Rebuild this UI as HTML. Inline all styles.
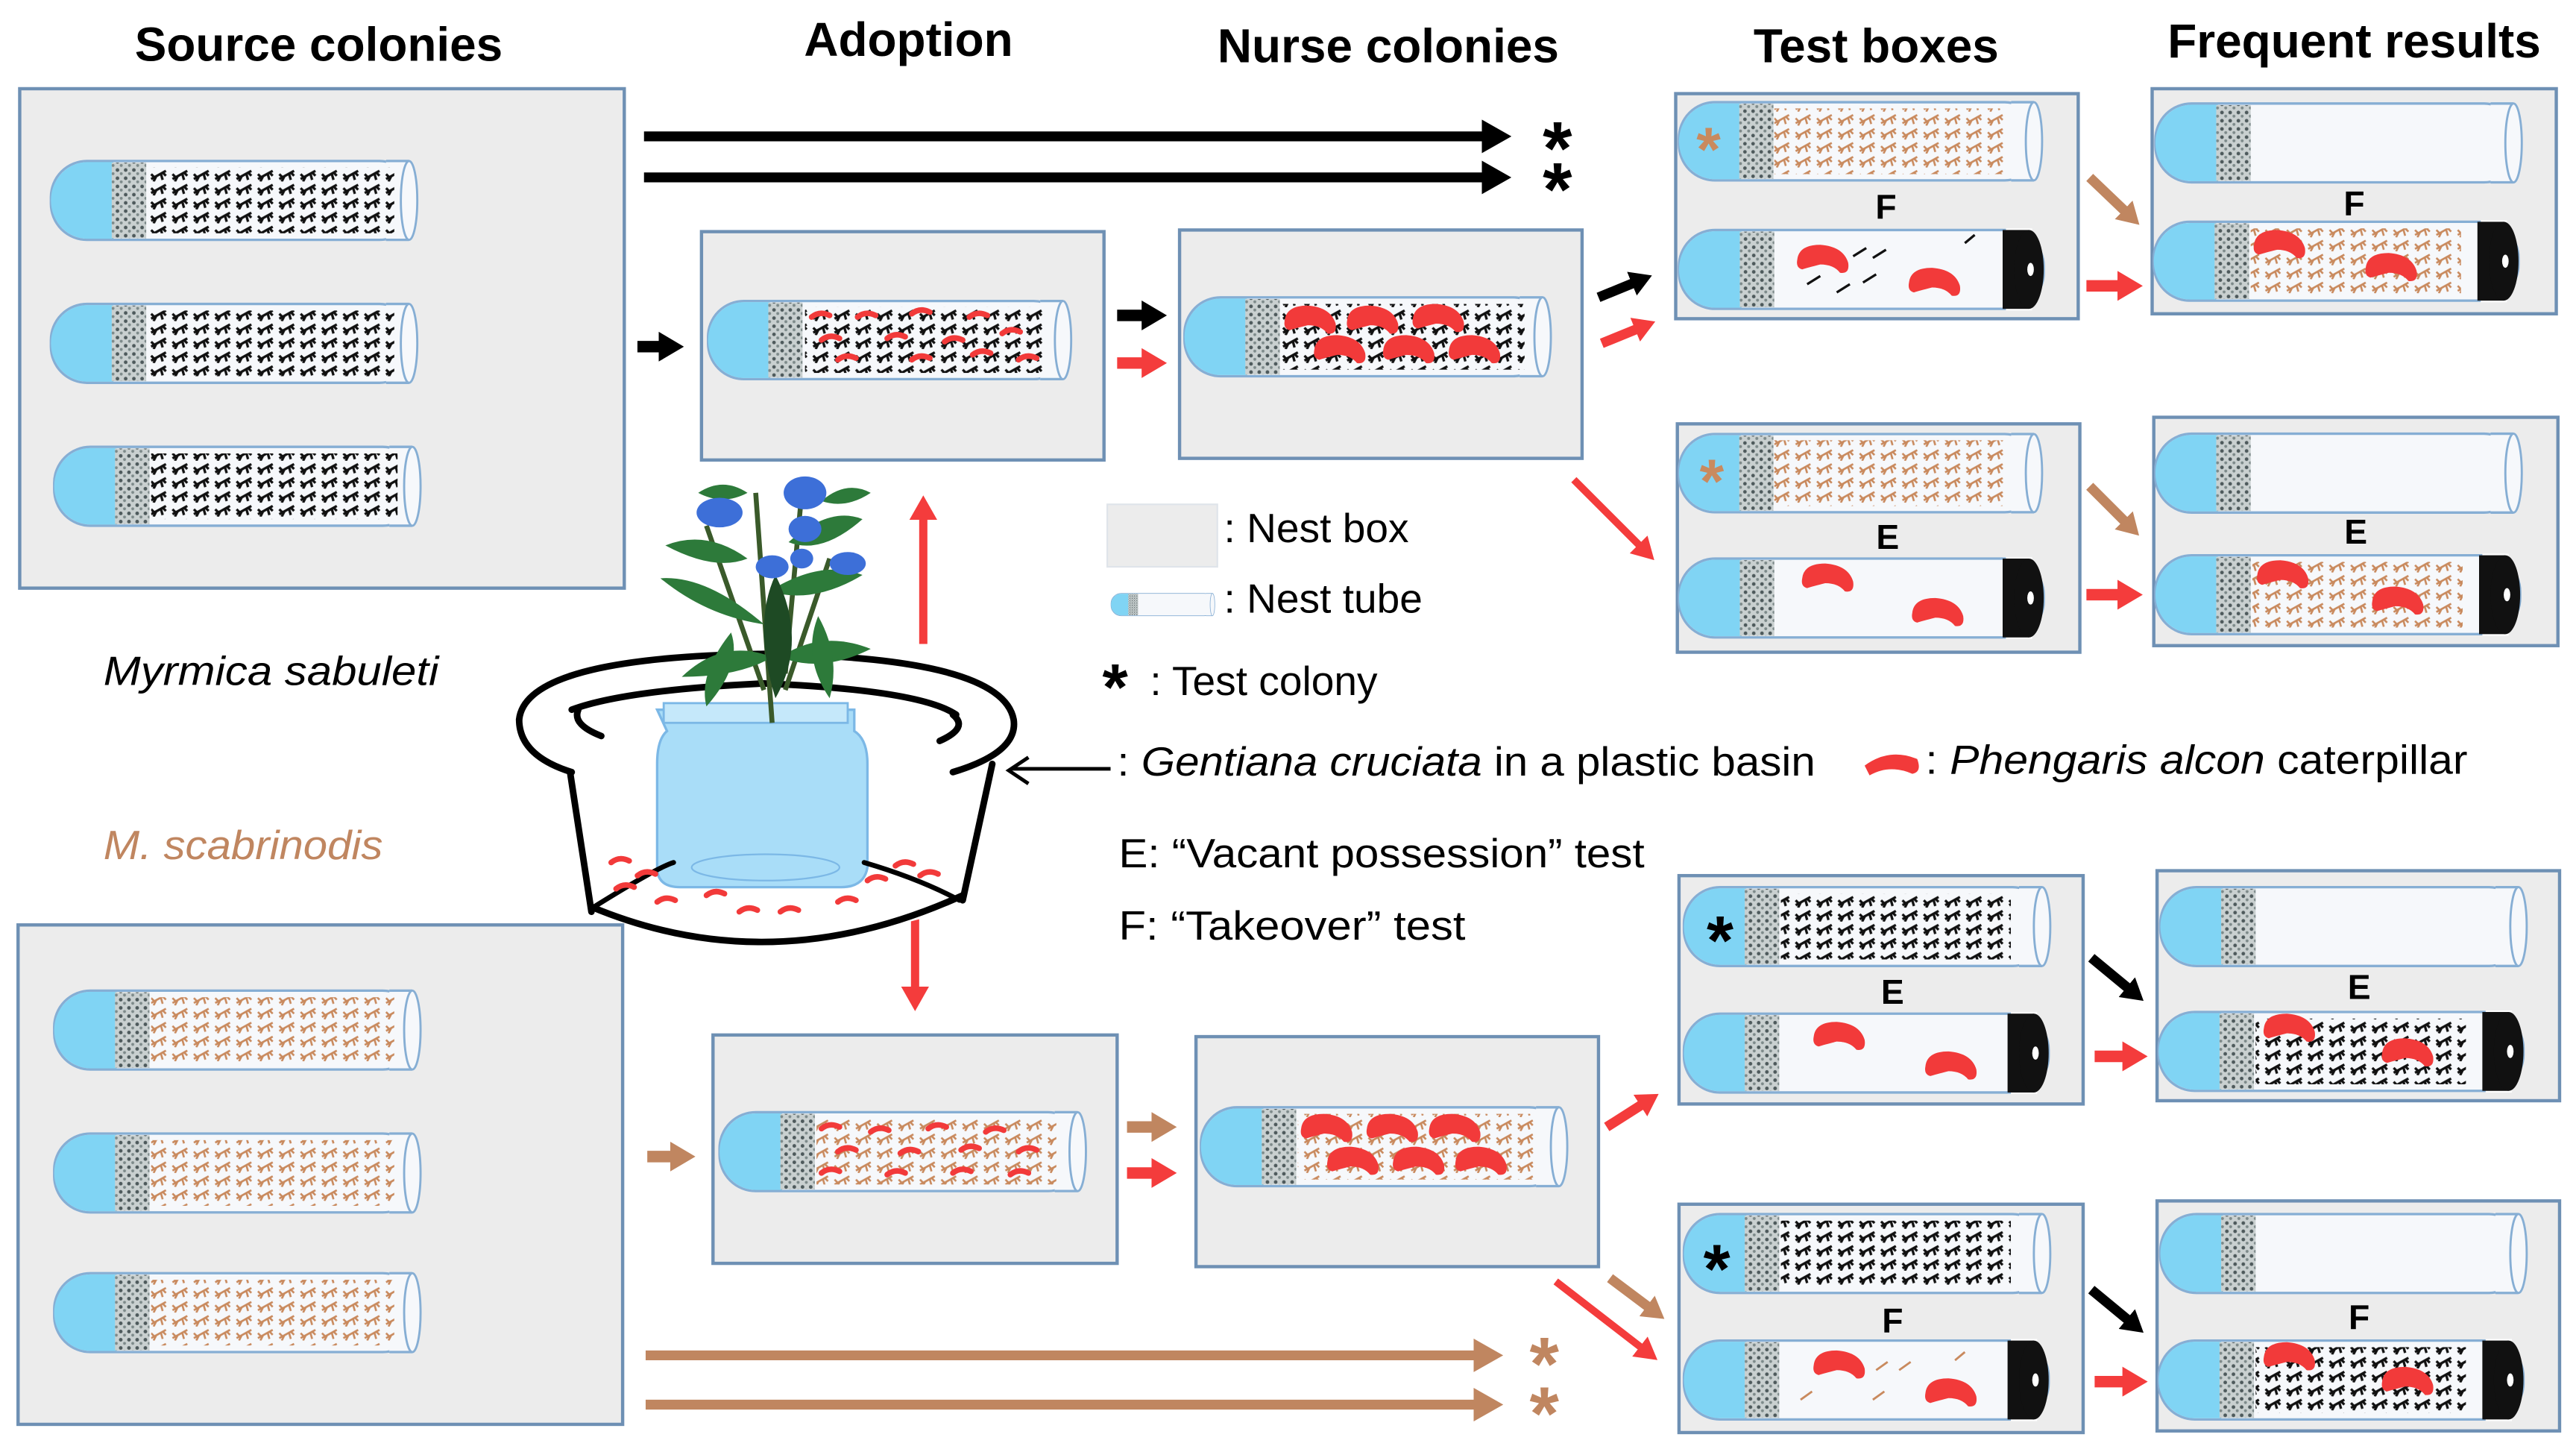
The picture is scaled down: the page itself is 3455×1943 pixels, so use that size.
<!DOCTYPE html>
<html><head><meta charset="utf-8"><style>
html,body{margin:0;padding:0;background:#fff}
svg{display:block}
text{font-family:"Liberation Sans",sans-serif}
</style></head><body>
<svg width="3455" height="1943" viewBox="0 0 1568 882" preserveAspectRatio="none" xmlns="http://www.w3.org/2000/svg">
<defs>
<pattern id="antK" width="13" height="8.5" patternUnits="userSpaceOnUse">
<path d="M1,7 L10,2 M4,5.5 l-1.5,3 M7,4 l1,3.5 M3,6 l-2,-2 M8,3 l2,2" stroke="#111" stroke-width="1.5" fill="none"/>
</pattern>
<pattern id="antB" width="13" height="8.5" patternUnits="userSpaceOnUse">
<path d="M1,7 L10,2 M4,5.5 l-1.5,3 M7,4 l1,3.5 M3,6 l-2,-2 M8,3 l2,2" stroke="#c98a5e" stroke-width="1.2" fill="none"/>
</pattern>
<pattern id="plug" width="5" height="5" patternUnits="userSpaceOnUse">
<rect width="5" height="5" fill="#c9d0d0"/>
<circle cx="1.5" cy="1.5" r="1.1" fill="#4e5a5c"/><circle cx="3.8" cy="3.7" r="0.9" fill="#7d8a8a"/>
</pattern>
<symbol id="tube" viewBox="0 0 226 50">
<rect x="1" y="1" width="222" height="48" rx="22" fill="#f6f8fb" stroke="#86aed4" stroke-width="1.5"/>
<path d="M39,1.7 H23 A22,23.3 0 0 0 23,48.3 H39 Z" fill="#80d4f4"/>
<rect x="38" y="2" width="21" height="46" fill="url(#plug)"/>
<rect x="205" y="1" width="14" height="48" fill="#f6f8fb"/>
<line x1="205" y1="1" x2="219" y2="1" stroke="#86aed4" stroke-width="1.5"/>
<line x1="205" y1="49" x2="219" y2="49" stroke="#86aed4" stroke-width="1.5"/>
<ellipse cx="219" cy="25" rx="5" ry="24" fill="#f6f8fb" stroke="#86aed4" stroke-width="1.3"/>
</symbol>
<symbol id="tubeC" viewBox="0 0 226 50">
<rect x="1" y="1" width="222" height="48" rx="22" fill="#f6f8fb" stroke="#86aed4" stroke-width="1.5"/>
<path d="M39,1.7 H23 A22,23.3 0 0 0 23,48.3 H39 Z" fill="#80d4f4"/>
<rect x="38" y="2" width="21" height="46" fill="url(#plug)"/>
<rect x="200" y="0" width="16" height="50" fill="#fff"/>
<rect x="198" y="1" width="16" height="48" fill="#111"/>
<ellipse cx="214" cy="25" rx="9" ry="24" fill="#111"/>
<ellipse cx="215" cy="25" rx="2" ry="4" fill="#fff"/>
</symbol>
<marker id="mK" markerWidth="3" markerHeight="3.4" refX="0.5" refY="1.7" orient="auto" markerUnits="strokeWidth"><path d="M0,0 L3,1.7 L0,3.4Z" fill="#000"/></marker>
<marker id="mR" markerWidth="3" markerHeight="3.4" refX="0.5" refY="1.7" orient="auto" markerUnits="strokeWidth"><path d="M0,0 L3,1.7 L0,3.4Z" fill="#f43c3c"/></marker>
<marker id="mB" markerWidth="3" markerHeight="3.4" refX="0.5" refY="1.7" orient="auto" markerUnits="strokeWidth"><path d="M0,0 L3,1.7 L0,3.4Z" fill="#c08660"/></marker>
<marker id="mK2" markerWidth="2.2" markerHeight="2.6" refX="0.3" refY="1.3" orient="auto" markerUnits="strokeWidth"><path d="M0,0 L2.2,1.3 L0,2.6Z" fill="#000"/></marker>
<marker id="mR2" markerWidth="2.2" markerHeight="2.6" refX="0.3" refY="1.3" orient="auto" markerUnits="strokeWidth"><path d="M0,0 L2.2,1.3 L0,2.6Z" fill="#f43c3c"/></marker>
<marker id="mB2" markerWidth="2.2" markerHeight="2.6" refX="0.3" refY="1.3" orient="auto" markerUnits="strokeWidth"><path d="M0,0 L2.2,1.3 L0,2.6Z" fill="#c08660"/></marker>
<g id="blob"><path d="M0,6 Q1,-3 14,-3 Q28,-2 31,8 Q32,15 26,14 Q22,9 14,9 Q6,11 3,12 Q-1,11 0,6Z" fill="#f23a3a"/></g>
<g id="dash"><path d="M0,3 Q5,-1 11,2" stroke="#f23a3a" stroke-width="3.4" fill="none" stroke-linecap="round"/></g>
</defs>

<!-- Titles -->
<g font-weight="bold" font-size="29" text-anchor="middle" fill="#000">
<text x="194" y="37">Source colonies</text>
<text x="553" y="34">Adoption</text>
<text x="845" y="38">Nurse colonies</text>
<text x="1142" y="38">Test boxes</text>
<text x="1433" y="35">Frequent results</text>
</g>

<g fill="#ececec" stroke="#6e90b4" stroke-width="2">
<rect x="12" y="54" width="368" height="304"/>
<rect x="11" y="563" width="368" height="304"/>
<rect x="427" y="141" width="245" height="139"/>
<rect x="718" y="140" width="245" height="139"/>
<rect x="434" y="630" width="246" height="139"/>
<rect x="728" y="631" width="245" height="140"/>
<rect x="1020" y="57" width="245" height="137"/>
<rect x="1310" y="54" width="246" height="137"/>
<rect x="1021" y="258" width="245" height="139"/>
<rect x="1311" y="254" width="246" height="139"/>
<rect x="1022" y="533" width="246" height="139"/>
<rect x="1313" y="530" width="245" height="140"/>
<rect x="1022" y="733" width="246" height="139"/>
<rect x="1313" y="731" width="245" height="140"/>
</g>

<g>
<use href="#tube" x="30" y="97" width="226" height="50"/><rect x="90" y="102" width="150" height="40" fill="url(#antK)"/>
<use href="#tube" x="30" y="184" width="226" height="50"/><rect x="90" y="189" width="150" height="40" fill="url(#antK)"/>
<use href="#tube" x="32" y="271" width="226" height="50"/><rect x="92" y="276" width="150" height="40" fill="url(#antK)"/>
<use href="#tube" x="32" y="602" width="226" height="50"/><rect x="92" y="607" width="148" height="40" fill="url(#antB)"/>
<use href="#tube" x="32" y="689" width="226" height="50"/><rect x="92" y="694" width="148" height="40" fill="url(#antB)"/>
<use href="#tube" x="32" y="774" width="226" height="50"/><rect x="92" y="779" width="148" height="40" fill="url(#antB)"/>
</g>

<use href="#tube" x="430" y="182" width="224" height="50"/>
<rect x="490" y="187" width="146" height="40" fill="url(#antK)"/>
<g>
<use href="#dash" x="494" y="190"/><use href="#dash" x="522" y="190"/><use href="#dash" x="555" y="188"/><use href="#dash" x="590" y="190"/>
<use href="#dash" x="500" y="204"/><use href="#dash" x="540" y="203"/><use href="#dash" x="575" y="205"/><use href="#dash" x="610" y="200"/>
<use href="#dash" x="510" y="216"/><use href="#dash" x="555" y="216"/><use href="#dash" x="592" y="213"/><use href="#dash" x="620" y="216"/>
</g>
<use href="#tube" x="720" y="180" width="226" height="50"/>
<rect x="780" y="185" width="148" height="40" fill="url(#antK)"/>
<g>
<use href="#blob" x="782" y="189"/><use href="#blob" x="820" y="189"/><use href="#blob" x="860" y="188"/>
<use href="#blob" x="800" y="207"/><use href="#blob" x="842" y="207"/><use href="#blob" x="882" y="207"/>
</g>
<use href="#tube" x="437" y="676" width="226" height="50"/>
<rect x="497" y="681" width="146" height="40" fill="url(#antB)"/>
<g>
<use href="#dash" x="500" y="684"/><use href="#dash" x="530" y="686"/><use href="#dash" x="565" y="684"/><use href="#dash" x="600" y="686"/>
<use href="#dash" x="510" y="698"/><use href="#dash" x="548" y="699"/><use href="#dash" x="585" y="697"/><use href="#dash" x="620" y="698"/>
<use href="#dash" x="500" y="711"/><use href="#dash" x="540" y="712"/><use href="#dash" x="580" y="711"/><use href="#dash" x="615" y="712"/>
</g>
<use href="#tube" x="730" y="673" width="226" height="50"/>
<rect x="790" y="678" width="146" height="40" fill="url(#antB)"/>
<g>
<use href="#blob" x="792" y="681"/><use href="#blob" x="832" y="681"/><use href="#blob" x="870" y="681"/>
<use href="#blob" x="808" y="701"/><use href="#blob" x="848" y="701"/><use href="#blob" x="886" y="701"/>
</g>

<!-- Test box F top -->
<use href="#tube" x="1021" y="61" width="224" height="50"/>
<rect x="1080" y="66" width="140" height="40" fill="url(#antB)"/>
<text x="1040" y="104" font-size="38" fill="#c98a5e" text-anchor="middle" font-weight="bold">*</text>
<text x="1148" y="133" font-size="21" font-weight="bold" text-anchor="middle">F</text>
<use href="#tubeC" x="1021" y="139" width="226" height="50"/>
<use href="#blob" x="1094" y="152"/><use href="#blob" x="1162" y="166"/>
<g stroke="#111" stroke-width="1.5"><path d="M1128,156 l8,-5 M1140,157 l8,-5 M1100,173 l8,-5 M1118,178 l8,-5 M1134,172 l8,-5 M1196,148 l6,-5"/></g>

<use href="#tube" x="1311" y="62" width="226" height="50"/>
<text x="1433" y="131" font-size="21" font-weight="bold" text-anchor="middle">F</text>
<use href="#tubeC" x="1310" y="134" width="226" height="50"/>
<rect x="1370" y="139" width="128" height="40" fill="url(#antB)"/>
<use href="#blob" x="1372" y="143"/><use href="#blob" x="1440" y="157"/>

<use href="#tube" x="1021" y="263" width="224" height="50"/>
<rect x="1080" y="268" width="140" height="40" fill="url(#antB)"/>
<text x="1042" y="306" font-size="38" fill="#c98a5e" text-anchor="middle" font-weight="bold">*</text>
<text x="1149" y="334" font-size="21" font-weight="bold" text-anchor="middle">E</text>
<use href="#tubeC" x="1021" y="339" width="226" height="50"/>
<use href="#blob" x="1097" y="346"/><use href="#blob" x="1164" y="367"/>

<use href="#tube" x="1311" y="263" width="226" height="50"/>
<text x="1434" y="331" font-size="21" font-weight="bold" text-anchor="middle">E</text>
<use href="#tubeC" x="1311" y="337" width="226" height="50"/>
<rect x="1371" y="342" width="128" height="40" fill="url(#antB)"/>
<use href="#blob" x="1374" y="344"/><use href="#blob" x="1444" y="360"/>

<use href="#tube" x="1024" y="539" width="226" height="50"/>
<rect x="1084" y="544" width="140" height="40" fill="url(#antK)"/>
<text x="1047" y="587" font-size="42" fill="#000" text-anchor="middle" font-weight="bold">*</text>
<text x="1152" y="611" font-size="21" font-weight="bold" text-anchor="middle">E</text>
<use href="#tubeC" x="1024" y="616" width="226" height="50"/>
<use href="#blob" x="1104" y="625"/><use href="#blob" x="1172" y="643"/>

<use href="#tube" x="1314" y="539" width="226" height="50"/>
<text x="1436" y="608" font-size="21" font-weight="bold" text-anchor="middle">E</text>
<use href="#tubeC" x="1313" y="615" width="226" height="50"/>
<rect x="1373" y="620" width="128" height="40" fill="url(#antK)"/>
<use href="#blob" x="1378" y="620"/><use href="#blob" x="1450" y="635"/>

<use href="#tube" x="1024" y="738" width="226" height="50"/>
<rect x="1084" y="743" width="140" height="40" fill="url(#antK)"/>
<text x="1045" y="787" font-size="42" fill="#000" text-anchor="middle" font-weight="bold">*</text>
<text x="1152" y="811" font-size="21" font-weight="bold" text-anchor="middle">F</text>
<use href="#tubeC" x="1024" y="815" width="226" height="50"/>
<use href="#blob" x="1104" y="825"/><use href="#blob" x="1172" y="842"/>
<g stroke="#c98a5e" stroke-width="1.3"><path d="M1142,834 l7,-5 M1156,834 l7,-5 M1190,828 l6,-5 M1096,852 l7,-5 M1140,852 l7,-5"/></g>

<use href="#tube" x="1314" y="738" width="226" height="50"/>
<text x="1436" y="809" font-size="21" font-weight="bold" text-anchor="middle">F</text>
<use href="#tubeC" x="1313" y="815" width="226" height="50"/>
<rect x="1373" y="820" width="128" height="40" fill="url(#antK)"/>
<use href="#blob" x="1378" y="820"/><use href="#blob" x="1450" y="835"/>

<g fill="none">
<line x1="392" y1="83" x2="905" y2="83" stroke="#000" stroke-width="6" marker-end="url(#mK)"/>
<line x1="392" y1="108" x2="905" y2="108" stroke="#000" stroke-width="6" marker-end="url(#mK)"/>
<line x1="393" y1="825" x2="900" y2="825" stroke="#c08660" stroke-width="6" marker-end="url(#mB)"/>
<line x1="393" y1="855" x2="900" y2="855" stroke="#c08660" stroke-width="6" marker-end="url(#mB)"/>
<line x1="388" y1="211" x2="403" y2="211" stroke="#000" stroke-width="7" marker-end="url(#mK2)"/>
<line x1="394" y1="704" x2="410" y2="704" stroke="#c08660" stroke-width="7" marker-end="url(#mB2)"/>
<line x1="680" y1="192" x2="697" y2="192" stroke="#000" stroke-width="7" marker-end="url(#mK2)"/>
<line x1="680" y1="221" x2="697" y2="221" stroke="#f43c3c" stroke-width="7" marker-end="url(#mR2)"/>
<line x1="686" y1="686" x2="703" y2="686" stroke="#c08660" stroke-width="7" marker-end="url(#mB2)"/>
<line x1="686" y1="714" x2="703" y2="714" stroke="#f43c3c" stroke-width="7" marker-end="url(#mR2)"/>
<line x1="973" y1="181" x2="995" y2="172" stroke="#000" stroke-width="6" marker-end="url(#mK2)"/>
<line x1="975" y1="209" x2="997" y2="200" stroke="#f43c3c" stroke-width="6" marker-end="url(#mR2)"/>
<line x1="958" y1="292" x2="999" y2="333" stroke="#f43c3c" stroke-width="4.5" marker-end="url(#mR)"/>
<line x1="978" y1="686" x2="1000" y2="672" stroke="#f43c3c" stroke-width="6" marker-end="url(#mR2)"/>
<line x1="980" y1="778" x2="1004" y2="796" stroke="#c08660" stroke-width="6" marker-end="url(#mB2)"/>
<line x1="947" y1="780" x2="1000" y2="821" stroke="#f43c3c" stroke-width="4.5" marker-end="url(#mR)"/>
<line x1="1272" y1="108" x2="1294" y2="129" stroke="#c08660" stroke-width="6" marker-end="url(#mB2)"/>
<line x1="1270" y1="174" x2="1291" y2="174" stroke="#f43c3c" stroke-width="7" marker-end="url(#mR2)"/>
<line x1="1272" y1="296" x2="1294" y2="318" stroke="#c08660" stroke-width="6" marker-end="url(#mB2)"/>
<line x1="1270" y1="362" x2="1291" y2="362" stroke="#f43c3c" stroke-width="7" marker-end="url(#mR2)"/>
<line x1="1273" y1="583" x2="1296" y2="602" stroke="#000" stroke-width="6" marker-end="url(#mK2)"/>
<line x1="1275" y1="643" x2="1294" y2="643" stroke="#f43c3c" stroke-width="7" marker-end="url(#mR2)"/>
<line x1="1273" y1="785" x2="1296" y2="804" stroke="#000" stroke-width="6" marker-end="url(#mK2)"/>
<line x1="1275" y1="841" x2="1294" y2="841" stroke="#f43c3c" stroke-width="7" marker-end="url(#mR2)"/>
<line x1="562" y1="392" x2="562" y2="314" stroke="#f43c3c" stroke-width="5" marker-end="url(#mR)"/>
<line x1="557" y1="558" x2="557" y2="603" stroke="#f43c3c" stroke-width="5" marker-end="url(#mR)"/>
<path d="M676,468 H616 M626,461 L614,469 L626,477" stroke="#000" stroke-width="2.2"/>
</g>
<g font-size="46" font-weight="bold" text-anchor="middle">
<text x="948" y="106" fill="#000">*</text>
<text x="948" y="131" fill="#000">*</text>
<text x="940" y="846" fill="#c08660">*</text>
<text x="940" y="876" fill="#c08660">*</text>
</g>

<!-- Basin -->
<path d="M362,552 Q470,500 582,548 L585,552 Q470,590 362,556Z" fill="#fff"/>
<path d="M400,432 H520 V445 Q528,450 528,465 V528 Q526,540 512,540 H414 Q400,540 400,528 V465 Q400,450 406,445Z" fill="#a9ddf8" stroke="#7cb8e6" stroke-width="1.5"/>
<rect x="404" y="428" width="112" height="12" fill="#c5e8fa" stroke="#7cb8e6" stroke-width="1.3"/>
<ellipse cx="466" cy="528" rx="45" ry="8" fill="none" stroke="#7cb8e6" stroke-width="1"/>
<g fill="none" stroke="#000" stroke-width="4" stroke-linecap="round">
<path d="M360,552 Q470,598 586,545"/>
<path d="M316,438 Q320,400 465,398 Q610,400 617,438 Q620,458 580,470"/>
<path d="M316,438 Q316,460 348,470"/>
<path d="M348,432 Q380,420 465,416 Q560,420 582,435"/>
<path d="M347,470 L360,555"/>
<path d="M604,465 L586,548"/>
<path d="M360,553 Q400,528 410,525 M526,525 Q560,535 584,548" stroke-width="3"/>
<path d="M352,432 Q348,441 366,448 M580,435 Q590,443 572,451"/>
</g>
<g>
<use href="#dash" x="372" y="522"/><use href="#dash" x="388" y="530"/><use href="#dash" x="375" y="538"/><use href="#dash" x="400" y="546"/><use href="#dash" x="430" y="542"/><use href="#dash" x="450" y="552"/><use href="#dash" x="475" y="552"/><use href="#dash" x="510" y="546"/><use href="#dash" x="528" y="533"/><use href="#dash" x="545" y="524"/><use href="#dash" x="560" y="530"/>
</g>
<!-- plant -->
<g>
<path d="M460,300 L470,440 M430,320 L465,420 M505,340 L478,420 M488,300 L478,410" stroke="#3a5a2a" stroke-width="3" fill="none"/>
<g fill="#2d7a3a">
<path d="M468,360 Q500,340 525,350 Q495,368 468,360Z"/>
<path d="M465,380 Q430,350 402,352 Q430,375 465,380Z"/>
<path d="M470,400 Q440,388 415,412 Q450,412 470,400Z"/>
<path d="M475,400 Q500,383 530,395 Q500,410 475,400Z"/>
<path d="M455,340 Q430,322 405,332 Q435,348 455,340Z"/>
<path d="M480,330 Q505,308 525,316 Q500,338 480,330Z"/>
<path d="M472,425 Q458,380 472,350 Q492,390 472,425Z" fill="#1e4a24"/>
<path d="M445,385 Q425,410 430,430 Q452,405 445,385Z"/>
<path d="M498,375 Q512,400 505,425 Q488,400 498,375Z"/>
<path d="M455,300 Q440,290 425,300 Q440,308 455,300Z"/>
<path d="M500,305 Q515,292 530,300 Q515,310 500,305Z"/>
</g>
<g fill="#3d6fd8">
<ellipse cx="438" cy="312" rx="14" ry="9"/><ellipse cx="490" cy="300" rx="13" ry="10"/><ellipse cx="490" cy="322" rx="10" ry="8"/>
<ellipse cx="470" cy="345" rx="10" ry="7"/><ellipse cx="516" cy="343" rx="11" ry="7"/><ellipse cx="488" cy="340" rx="7" ry="6"/>
</g>
</g>

<rect x="674" y="307" width="67" height="38" fill="#ececec" stroke="#dfe4ea" stroke-width="1"/>
<use href="#tube" x="676" y="360" width="64" height="16"/>
<g font-size="25" fill="#000">
<text x="745" y="330">: Nest box</text>
<text x="745" y="373">: Nest tube</text>
<text x="671" y="432" font-size="40" font-weight="bold">*</text>
<text x="700" y="423">: Test colony</text>
<text x="680" y="472" textLength="425" lengthAdjust="spacingAndGlyphs">: <tspan font-style="italic">Gentiana cruciata</tspan> in a plastic basin</text>
<text x="1172" y="471" textLength="330" lengthAdjust="spacingAndGlyphs">: <tspan font-style="italic">Phengaris alcon</tspan> caterpillar</text>
<text x="681" y="528" textLength="320" lengthAdjust="spacingAndGlyphs">E: “Vacant possession” test</text>
<text x="681" y="572" textLength="211" lengthAdjust="spacingAndGlyphs">F: “Takeover” test</text>
<text x="63" y="417" font-style="italic" textLength="204" lengthAdjust="spacingAndGlyphs">Myrmica sabuleti</text>
<text x="63" y="523" font-style="italic" fill="#c08660" textLength="170" lengthAdjust="spacingAndGlyphs">M. scabrinodis</text>
</g>
<path d="M1135,466 Q1150,455 1167,462 Q1170,470 1164,471 Q1150,465 1138,472Z" fill="#f23a3a"/>
</svg>
</body></html>
